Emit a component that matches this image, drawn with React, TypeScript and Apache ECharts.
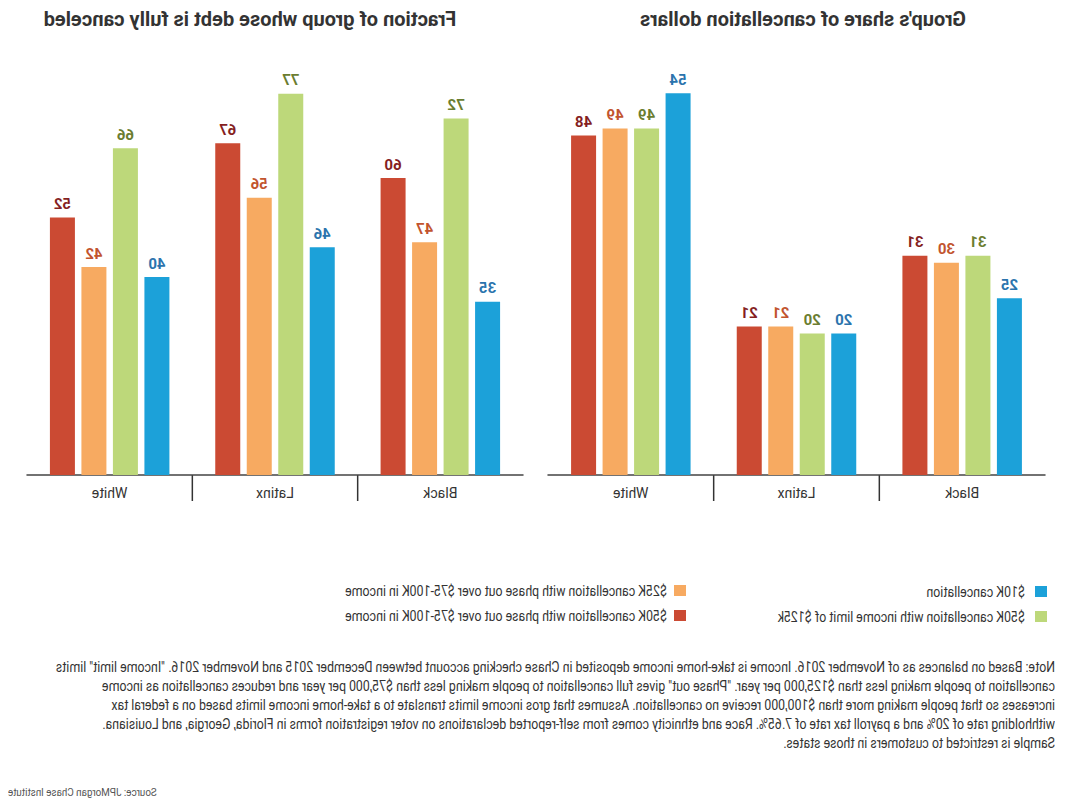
import React, { useEffect, useRef } from "react";
import * as echarts from "echarts";

// ---------- data ----------
const categories = ["Black", "Latinx", "White"];

const seriesNames = [
  "$10K cancellation",
  "$50K cancellation with income limit of $125k",
  "$25K cancellation with phase out over $75-100K in income",
  "$50K cancellation with phase out over $75-100K in income",
];

// Group's share of cancellation dollars
const share10k = [25, 20, 54];
const share50kLimit = [31, 20, 49];
const share25kPhase = [30, 21, 49];
const share50kPhase = [31, 21, 48];

// Fraction of group whose debt is fully canceled
const full10k = [35, 46, 40];
const full50kLimit = [72, 77, 66];
const full25kPhase = [47, 56, 42];
const full50kPhase = [60, 67, 52];

const titles = ["Group's share of cancellation dollars", "Fraction of group whose debt is fully canceled"];

const noteLines = [
  'Note: Based on balances as of November 2016. Income is take-home income deposited in Chase checking account between December 2015 and November 2016. "Income limit" limits',
  'cancellation to people making less than $125,000 per year. "Phase out" gives full cancellation to people making less than $75,000 per year and reduces cancellation as income',
  "increases so that people making more than $100,000 receive no cancellation. Assumes that gros income limits translate to a take-home income limits based on a federal tax",
  "withholding rate of 20% and a payroll tax rate of 7.65%. Race and ethnicity comes from self-reported declarations on voter registration forms in Florida, Georgia, and Louisiana.",
  "Sample is restricted to customers in those states.",
];
const sourceText = "Source: JPMorgan Chase Institute";

// ---------- styles ----------
const barColors = ["#1ca1d9", "#bdd87a", "#f7aa61", "#cb4a33"];
const labelColors = ["#2b74ad", "#6b7d30", "#c2542e", "#851f1f"];
const FONT = "Roboto, 'Noto Sans', sans-serif";

const measureCtx = document.createElement("canvas").getContext("2d") as CanvasRenderingContext2D;
function textWidth(t: string, font: string) {
  measureCtx.font = font;
  return measureCtx.measureText(t).width;
}

export default function App() {
  const ref = useRef<HTMLDivElement>(null);

  useEffect(() => {
    document.body.style.margin = "0";
    if (!ref.current) return;
    const chart = echarts.init(ref.current, undefined, { renderer: "svg" });

    const grids = [
      { left: 26, top: 79, width: 497, height: 396 },
      { left: 548, top: 79, width: 496, height: 396 },
    ];
    const panelData = [
      [share10k, share50kLimit, share25kPhase, share50kPhase],
      [full10k, full50kLimit, full25kPhase, full50kPhase],
    ];
    const maxes = [56, 80];

    const series: any[] = [];
    panelData.forEach((sets, gi) => {
      sets.forEach((vals, si) => {
        series.push({
          type: "bar",
          name: seriesNames[si],
          xAxisIndex: gi,
          yAxisIndex: gi,
          data: vals,
          barWidth: 25,
          barGap: "26%",
          itemStyle: { color: barColors[si] },
          label: {
            show: true,
            position: "top",
            distance: 6,
            color: labelColors[si],
            fontFamily: FONT,
            fontWeight: "bold",
            fontSize: 15,
          },
        });
      });
    });

    chart.setOption({
      animation: false,
      title: titles.map((t, i) => ({
        text: t,
        left: i === 0 ? 268 : 821,
        top: 9,
        padding: 0,
        textAlign: "center",
        textStyle: { fontFamily: FONT, fontWeight: "bold", fontSize: 20, color: "#333" },
      })),
      grid: grids,
      xAxis: grids.map((_, i) => ({
        type: "category",
        gridIndex: i,
        data: categories,
        axisLine: { lineStyle: { color: "#444", width: 1.5 } },
        axisTick: { show: false },
        axisLabel: { color: "#333", fontFamily: FONT, fontSize: 14, margin: 11 },
      })),
      yAxis: grids.map((_, i) => ({
        type: "value",
        gridIndex: i,
        min: 0,
        max: maxes[i],
        show: false,
        splitLine: { show: false },
      })),
      series,
    });

    const graphic: any[] = [];
    // category separators
    grids.forEach((_, gi) => {
      const y0 = chart.convertToPixel({ yAxisIndex: gi } as any, 0) as number;
      for (let c = 0; c < categories.length - 1; c++) {
        const a = chart.convertToPixel({ xAxisIndex: gi } as any, c) as number;
        const b = chart.convertToPixel({ xAxisIndex: gi } as any, c + 1) as number;
        const x = (a + b) / 2;
        graphic.push({
          type: "line",
          shape: { x1: x, y1: y0, x2: x, y2: y0 + 26 },
          style: { stroke: "#333", lineWidth: 1.5 },
        });
      }
    });

    // legend
    const legendFont = `15px ${FONT}`;
    const legendScale = 322 / textWidth(seriesNames[2], legendFont);
    const legendPos = [
      { rx: 24, ry: 586, tx: 46, ty: 591.5 },
      { rx: 24, ry: 611, tx: 46, ty: 616.5 },
      { rx: 385, ry: 585, tx: 404, ty: 590.5 },
      { rx: 385, ry: 610, tx: 404, ty: 615.5 },
    ];
    seriesNames.forEach((n, i) => {
      const p = legendPos[i];
      graphic.push({
        type: "rect",
        shape: { x: p.rx, y: p.ry, width: 12, height: 11 },
        style: { fill: barColors[i] },
      });
      graphic.push({
        type: "text",
        x: p.tx,
        y: p.ty,
        scaleX: legendScale,
        style: { text: n, font: legendFont, fill: "#333", textAlign: "left", textVerticalAlign: "middle" },
      });
    });

    // note
    const noteFont = `14px ${FONT}`;
    const noteScale = 1000 / textWidth(noteLines[0], noteFont);
    noteLines.forEach((l, i) => {
      graphic.push({
        type: "text",
        x: 16,
        y: 667 + i * 19,
        scaleX: noteScale,
        style: { text: l, font: noteFont, fill: "#333", textAlign: "left", textVerticalAlign: "middle" },
      });
    });

    // source
    const srcFont = `10px ${FONT}`;
    const srcScale = 149 / textWidth(sourceText, srcFont);
    graphic.push({
      type: "text",
      x: 1063,
      y: 792,
      scaleX: srcScale,
      style: { text: sourceText, font: srcFont, fill: "#555", textAlign: "right", textVerticalAlign: "middle" },
    });

    chart.setOption({ graphic });

    return () => chart.dispose();
  }, []);

  return (
    <div style={{ width: 1071, height: 801, transform: "scaleX(-1)", transformOrigin: "center" }}>
      <div ref={ref} style={{ width: 1071, height: 801 }} />
    </div>
  );
}
